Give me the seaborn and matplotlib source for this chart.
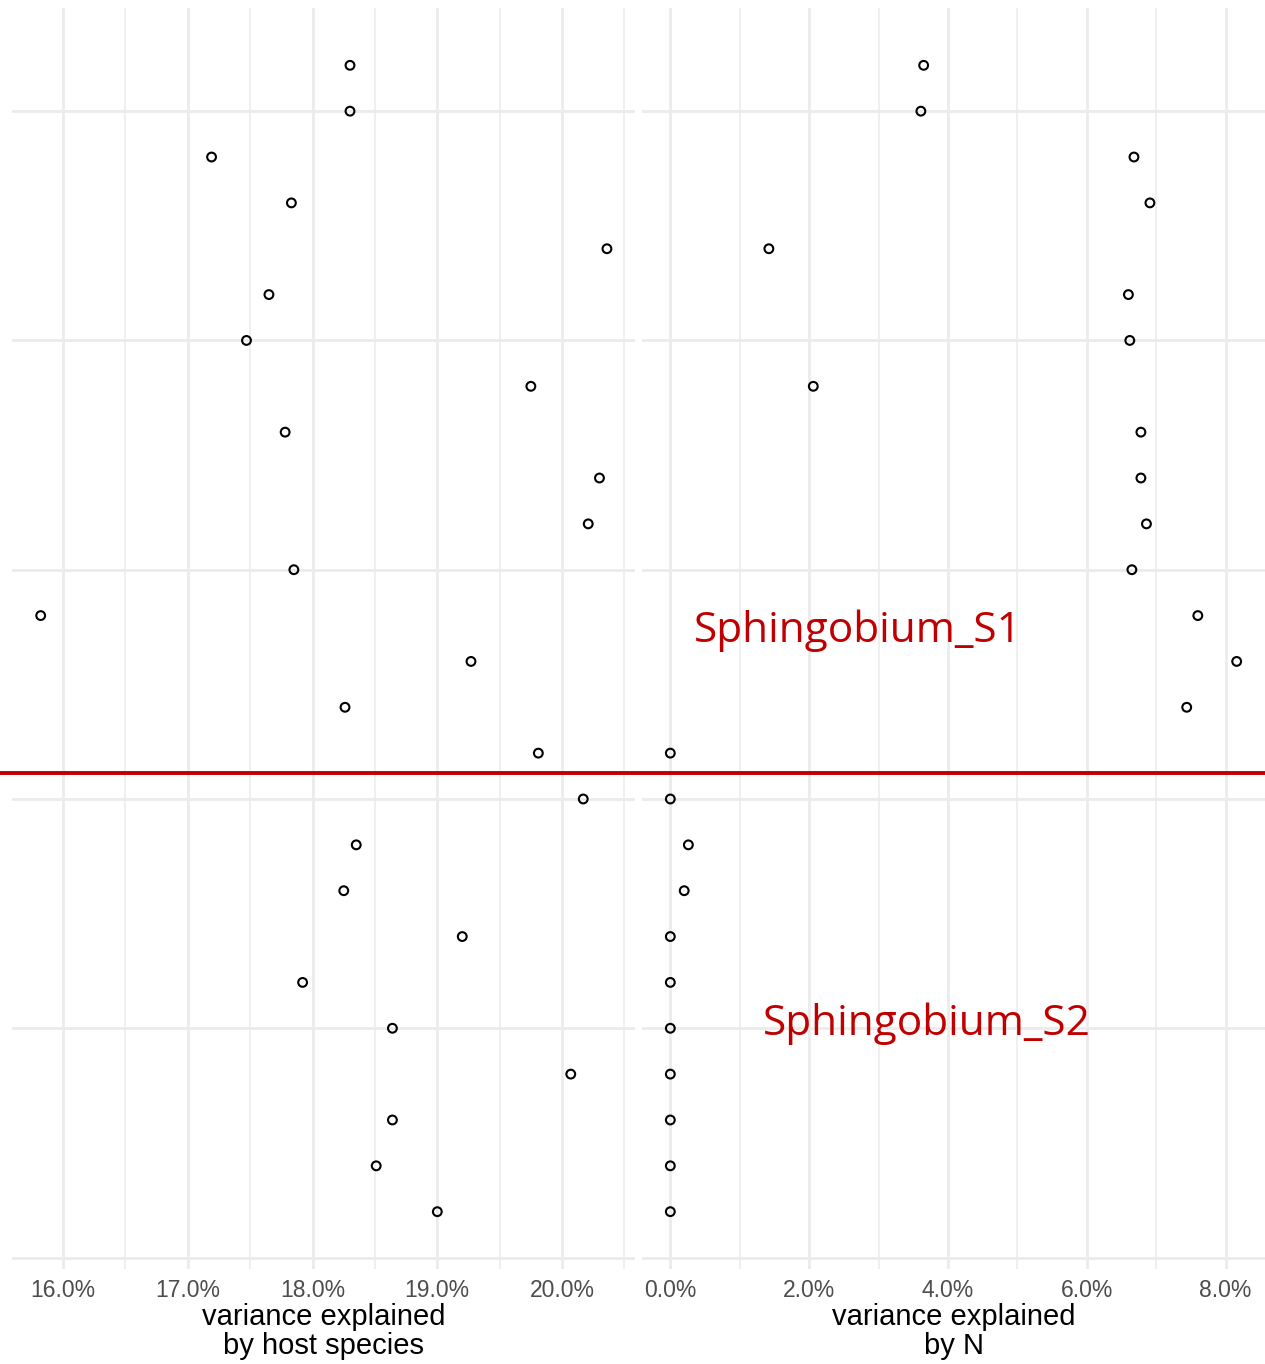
import pandas as pd
import seaborn as sns
import matplotlib.pyplot as plt
from matplotlib.ticker import PercentFormatter, MultipleLocator
from matplotlib.lines import Line2D

# values, top row first (rank 26 -> 1)
host_species = [18.30, 18.30, 17.19, 17.83, 20.36, 17.65, 17.47, 19.75, 17.78,
                20.30, 20.21, 17.85, 15.82, 19.27, 18.26, 19.81, 20.17, 18.35,
                18.25, 19.20, 17.92, 18.64, 20.07, 18.64, 18.51, 19.00]
by_n = [3.65, 3.61, 6.68, 6.91, 1.42, 6.60, 6.62, 2.06, 6.78, 6.78, 6.86,
        6.65, 7.60, 8.16, 7.44, 0.00, 0.00, 0.26, 0.20, 0.00, 0.00, 0.00,
        0.00, 0.00, 0.00, 0.00]
rank = list(range(26, 0, -1))
groups = ['Sphingobium_S1', 'Sphingobium_S2']

df = pd.DataFrame({'rank': rank, 'host': host_species, 'N': by_n})

sns.set_style('white')
plt.rcParams['font.family'] = ['Liberation Sans', 'DejaVu Sans']

fig = plt.figure(figsize=(12.65, 13.64), dpi=100)
W, H = 1265, 1364
ax1 = fig.add_axes([12 / W, 95 / H, 623 / W, 1261 / H])
ax2 = fig.add_axes([642 / W, 95 / H, 623 / W, 1261 / H], sharey=ax1)

grid = '#ebebeb'
for ax, col, lab, major in [(ax1, 'host', 'variance explained\nby host species', 1.0),
                            (ax2, 'N', 'variance explained\nby N', 2.0)]:
    sns.scatterplot(data=df, x=col, y='rank', ax=ax, marker='o', s=40,
                    facecolor='none', edgecolor='black', linewidth=1.5, zorder=3)
    ax.xaxis.set_major_locator(MultipleLocator(major))
    ax.xaxis.set_minor_locator(MultipleLocator(major / 2))
    ax.xaxis.set_major_formatter(PercentFormatter(xmax=100, decimals=1))
    ax.yaxis.set_major_locator(MultipleLocator(5))
    ax.grid(which='major', axis='both', color=grid, linewidth=2.0)
    ax.grid(which='minor', axis='x', color=grid, linewidth=1.1)
    ax.set_axisbelow(True)
    for s in ax.spines.values():
        s.set_visible(False)
    ax.tick_params(which='both', length=0)
    ax.tick_params(axis='x', labelsize=16.5, labelcolor='#4d4d4d', pad=7)
    ax.tick_params(axis='y', labelleft=False)
    ax.set_xlabel(lab, fontsize=21, color='black', labelpad=1, linespacing=1.05)
    ax.set_ylabel('')

ax1.set_xlim(15.59, 20.585)
ax2.set_xlim(-0.408, 8.568)
ax1.set_ylim(-0.25, 27.25)

# separator between the two groups
fig.add_artist(Line2D([0, 1], [1 - 773 / H, 1 - 773 / H], color='#c00000', linewidth=2.8))

fig.text(858 / W, 1 - 631 / H, groups[0], color='#c00000', fontsize=30.5,
         family=['Open Sans', 'DejaVu Sans'], ha='center', va='center')
fig.text(927 / W, 1 - 1024 / H, groups[1], color='#c00000', fontsize=30.5,
         family=['Open Sans', 'DejaVu Sans'], ha='center', va='center')

fig.savefig('out.png', dpi=100)
